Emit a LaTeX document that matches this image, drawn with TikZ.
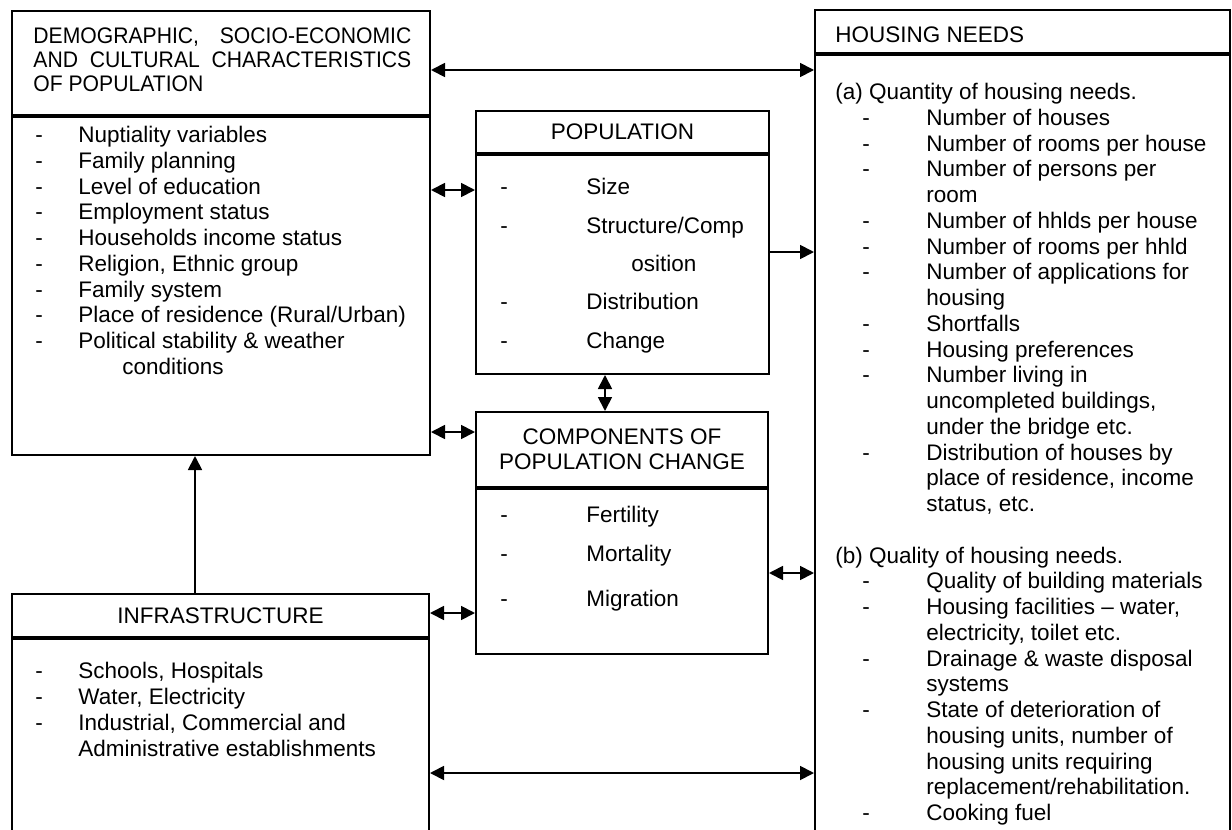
\documentclass[tikz,border=0pt]{standalone}
\usepackage{fontspec}
\setmainfont{Liberation Sans}
\newfontfamily\hdfont[FakeStretch=0.94]{Liberation Sans}
\usetikzlibrary{arrows.meta,positioning}

% list lines with a leading dash
\newcommand{\dl}[1]{\makebox[21.5pt][l]{-}#1}
\newcommand{\pl}[1]{\makebox[43pt][l]{-}#1}
\newcommand{\hl}[1]{\hspace*{13.5pt}\makebox[32pt][l]{-}#1}
\newcommand{\hc}[1]{\hspace*{45.5pt}#1}

\begin{document}
\begin{tikzpicture}[
        x=0.5pt, y=-0.5pt,
        every node/.style={font=\fontsize{11.25}{12.875}\selectfont},
        panel/.style={rectangle, draw, line width=1pt, inner sep=0pt},
        txt/.style={anchor=north west, inner sep=0pt, align=left},
        link/.style={-{Triangle[length=7pt,width=7pt]}, line width=0.9pt},
        both/.style={{Triangle[length=7pt,width=7pt]}-{Triangle[length=7pt,width=7pt]}, line width=0.9pt}
    ]
        \useasboundingbox (0,0) rectangle (1232,830);
        \clip (0,0) rectangle (1232,830);

        % Left top: characteristics of population
        \node[panel, anchor=north west, minimum width=209pt, minimum height=52pt] (demohead) at (11,10) {};
        \node[panel, minimum width=209pt, minimum height=169pt, below=0pt of demohead] (demobody) {};
        \node[txt, font=\hdfont\fontsize{11.25}{12}\selectfont] (demotitle) at (33,27)
            {\makebox[189pt][s]{DEMOGRAPHIC, SOCIO-ECONOMIC}\\
             \makebox[189pt][s]{AND CULTURAL CHARACTERISTICS}\\
             OF POPULATION};
        \node[txt] (demolist) at (35,126)
            {\dl{Nuptiality variables}\\ \dl{Family planning}\\ \dl{Level of education}\\
             \dl{Employment status}\\ \dl{Households income status}\\ \dl{Religion, Ethnic group}\\
             \dl{Family system}\\ \dl{Place of residence (Rural/Urban)}\\
             \dl{Political stability \& weather}\\ \hspace*{43.5pt}conditions};

        % Middle: population
        \node[panel, anchor=north west, minimum width=146.5pt, minimum height=21pt] (pophead) at (475,110) {POPULATION};
        \node[panel, minimum width=146.5pt, minimum height=109.5pt, below=0pt of pophead] (popbody) {};
        \node[txt, font=\fontsize{11.25}{19.2}\selectfont] (poplist) at (500,178)
            {\pl{Size}\\ \pl{Structure/Comp}\\ \hspace*{65.5pt}osition\\ \pl{Distribution}\\ \pl{Change}};

        % Middle: components
        \node[panel, anchor=north west, minimum width=146pt, minimum height=37.5pt, align=center,
              font=\fontsize{11.25}{12.5}\selectfont] (comphead) at (475,411) {COMPONENTS OF\\POPULATION CHANGE};
        \node[panel, minimum width=146pt, minimum height=82.5pt, below=0pt of comphead] (compbody) {};
        \node[txt, font=\fontsize{11.25}{19.25}\selectfont] (complist) at (500,506)
            {\pl{Fertility}\\ \pl{Mortality}\\[3.25pt] \pl{Migration}};

        % Left bottom: infrastructure
        \node[panel, anchor=north west, minimum width=208.5pt, minimum height=21.5pt] (infrahead) at (11,593) {INFRASTRUCTURE};
        \node[panel, minimum width=208.5pt, minimum height=102pt, below=0pt of infrahead] (infrabody) {};
        \node[txt, font=\fontsize{11.25}{13}\selectfont] (infralist) at (35,662)
            {\dl{Schools, Hospitals}\\ \dl{Water, Electricity}\\ \dl{Industrial, Commercial and}\\
             \hspace*{21.5pt}Administrative establishments};

        % Right: housing needs
        \node[panel, anchor=north west, minimum width=207.5pt, minimum height=21.5pt] (househead) at (814,9) {};
        \node[panel, minimum width=207.5pt, minimum height=394pt, below=0pt of househead] (housebody) {};
        \node[txt] (housetitle) at (835,26) {HOUSING NEEDS};
        \node[txt] (houselist) at (835,83)
            {(a) Quantity of housing needs.\\
             \hl{Number of houses}\\ \hl{Number of rooms per house}\\ \hl{Number of persons per}\\ \hc{room}\\
             \hl{Number of hhlds per house}\\ \hl{Number of rooms per hhld}\\
             \hl{Number of applications for}\\ \hc{housing}\\ \hl{Shortfalls}\\ \hl{Housing preferences}\\
             \hl{Number living in}\\ \hc{uncompleted buildings,}\\ \hc{under the bridge etc.}\\
             \hl{Distribution of houses by}\\ \hc{place of residence, income}\\ \hc{status, etc.}\\[12.875pt]
             (b) Quality of housing needs.\\
             \hl{Quality of building materials}\\ \hl{Housing facilities -- water,}\\ \hc{electricity, toilet etc.}\\
             \hl{Drainage \& waste disposal}\\ \hc{systems}\\ \hl{State of deterioration of}\\
             \hc{housing units, number of}\\ \hc{housing units requiring}\\ \hc{replacement/rehabilitation.}\\
             \hl{Cooking fuel}};

        % Connectors
        \draw[both] (demohead.east |- 0,70) -- (housebody.west |- 0,70);
        \draw[both] (demobody.east |- 0,190) -- (popbody.west |- 0,190);
        \draw[both] (demobody.east |- 0,432) -- (comphead.west |- 0,432);
        \draw[link] (infrahead.north -| 195,0) -- (demobody.south -| 195,0);
        \draw[both] (infrahead.east |- 0,613) -- (compbody.west |- 0,613);
        \draw[both] (infrabody.east |- 0,773) -- (housebody.west |- 0,773);
        \draw[link] (popbody.east |- 0,252) -- (housebody.west |- 0,252);
        \draw[both] (popbody.south -| 605,0) -- (comphead.north -| 605,0);
        \draw[both] (compbody.east |- 0,573) -- (housebody.west |- 0,573);
    \end{tikzpicture}
\end{document}
